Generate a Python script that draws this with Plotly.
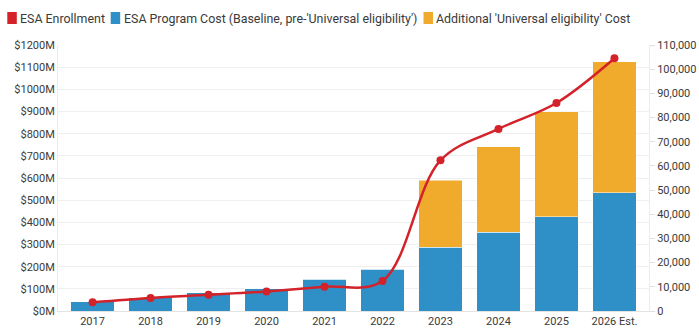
import plotly.graph_objects as go

# ---- data ----
years = ["2017", "2018", "2019", "2020", "2021", "2022", "2023", "2024", "2025", "2026 Est."]
baseline_cost = [42, 60, 83, 101, 143, 189, 287, 355, 425, 534]          # $M
additional_cost = [0, 0, 0, 0, 0, 0, 304, 386, 474, 591]                 # $M
enrollment = [3600, 5400, 6700, 8100, 10000, 12400, 62300, 75300, 86000, 104500]

legend_names = ["ESA Enrollment",
                "ESA Program Cost (Baseline, pre-'Universal eligibility')",
                "Additional 'Universal eligibility' Cost"]

RED = "#d3222a"
BLUE = "#2e90c6"
ORANGE = "#f1ab2c"
TXT = "#3a3a3a"
FONT = "Roboto"

W, H = 699, 331
ML, MR, MT, MB = 58, 50, 45, 20
PW, PH = W - ML - MR, H - MT - MB

fig = go.Figure()
fig.add_trace(go.Bar(x=years, y=baseline_cost, name=legend_names[1],
                     marker=dict(color=BLUE, line=dict(color="rgba(255,255,255,0.5)", width=1)),
                     showlegend=False))
fig.add_trace(go.Bar(x=years, y=additional_cost, name=legend_names[2],
                     marker=dict(color=ORANGE, line=dict(color="rgba(255,255,255,0.5)", width=1)),
                     showlegend=False))
fig.add_trace(go.Scatter(x=years, y=enrollment, name=legend_names[0], yaxis="y2",
                         mode="lines+markers",
                         line=dict(color=RED, width=2.5, shape="spline", smoothing=1.0),
                         marker=dict(color=RED, size=8),
                         showlegend=False))

def px_x(p):
    return (p - ML) / PW

def px_y(p):
    return (H - MB - p) / PH

# manual legend (swatches + text)
legend_items = [(RED, 7.3, 18.0, legend_names[0]),
                (BLUE, 110.7, 121.5, legend_names[1]),
                (ORANGE, 423.5, 434.0, legend_names[2])]
shapes = []
annotations = []
for color, sx, tx, label in legend_items:
    shapes.append(dict(type="rect", xref="paper", yref="paper",
                       x0=px_x(sx), x1=px_x(sx + 9.5), y0=px_y(24), y1=px_y(12),
                       fillcolor=color, line=dict(width=0)))
    annotations.append(dict(xref="paper", yref="paper", x=px_x(tx), y=px_y(18),
                            xanchor="left", yanchor="middle", showarrow=False,
                            text=label, font=dict(family=FONT, size=12.4, color=TXT)))

fig.update_layout(
    width=W, height=H,
    margin=dict(l=ML, r=MR, t=MT, b=MB, autoexpand=False),
    paper_bgcolor="white", plot_bgcolor="white",
    barmode="stack", bargap=0.255,
    showlegend=False,
    font=dict(family=FONT, size=11, color=TXT),
    shapes=shapes, annotations=annotations,
    xaxis=dict(type="category", showgrid=False, showline=True, linecolor="#e3e3e3",
               automargin=False, ticks="",
               tickfont=dict(family=FONT, size=11, color=TXT)),
    yaxis=dict(range=[0, 1200], dtick=100, tickprefix="$", ticksuffix="M",
               showgrid=True, gridcolor="#efefef", gridwidth=1, automargin=False,
               showline=True, linecolor="#ececec", zeroline=False,
               ticks="", tickfont=dict(family=FONT, size=11, color=TXT)),
    yaxis2=dict(range=[0, 110000], dtick=10000, tickformat=",d", overlaying="y", side="right",
                showgrid=False, showline=True, linecolor="#ececec", zeroline=False,
                automargin=False, ticks="outside", ticklen=5, tickcolor="#e0e0e0",
                tickfont=dict(family=FONT, size=11, color=TXT)),
)

fig.write_html("out.html")
